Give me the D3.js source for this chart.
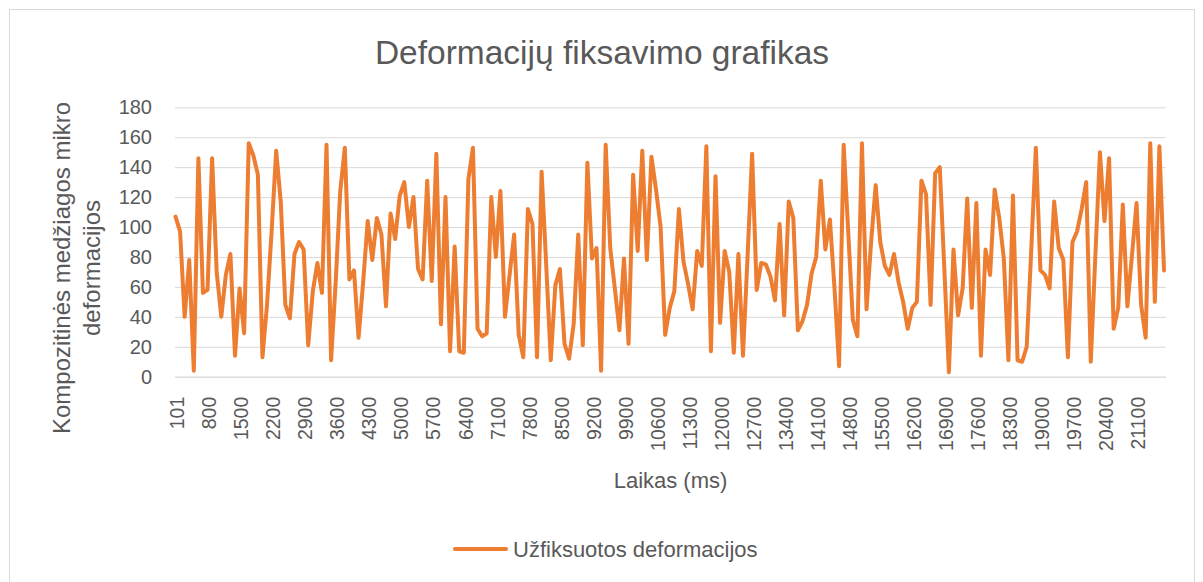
<!DOCTYPE html>
<html>
<head>
<meta charset="utf-8">
<script src="https://cdn.jsdelivr.net/npm/d3@7"></script>
<style>
  html, body { margin: 0; padding: 0; background: #ffffff; }
  svg { display: block; font-family: "Liberation Sans", Arial, sans-serif; }
</style>
</head>
<body>
<svg id="chart" width="1203" height="582"></svg>
<script>
// Sampling times (ms): first sample at 101, then every 100 ms
const times = [101].concat(d3.range(200, 21800, 100));

// Recorded micro-deformation of the composite at each sample
const deformations = [
  107, 97, 40, 78, 4, 146, 56, 58, 146, 70,
  40, 68, 82, 14, 59, 29, 156, 148, 135, 13,
  48, 97, 151, 117, 48, 39, 82, 90, 85, 21,
  57, 76, 56, 155, 11, 63, 124, 153, 65, 71,
  26, 63, 104, 78, 106, 95, 47, 109, 92, 121,
  130, 100, 120, 72, 65, 131, 64, 149, 35, 120,
  17, 87, 17, 16, 132, 153, 32, 27, 29, 120,
  80, 124, 40, 68, 95, 28, 13, 112, 102, 13,
  137, 75, 11, 61, 72, 22, 12, 35, 95, 21,
  143, 79, 86, 4, 155, 86, 59, 31, 79, 22,
  135, 84, 151, 78, 147, 125, 100, 28, 46, 57,
  112, 77, 62, 45, 84, 74, 154, 17, 134, 36,
  84, 70, 16, 82, 14, 80, 149, 58, 76, 75,
  67, 51, 102, 41, 117, 106, 31, 37, 48, 69,
  80, 131, 85, 105, 59, 7, 155, 97, 38, 27,
  156, 45, 90, 128, 90, 74, 68, 82, 63, 50,
  32, 46, 50, 131, 122, 48, 136, 140, 72, 3,
  85, 41, 59, 119, 46, 116, 14, 85, 68, 125,
  106, 79, 11, 121, 11, 10, 20, 85, 153, 71,
  68, 59, 117, 86, 78, 13, 90, 97, 112, 130,
  10, 81, 150, 104, 146, 32, 46, 115, 47, 81,
  116, 48, 26, 156, 50, 154, 71
];

// Category labels printed under the time axis
const xTickLabels = [
  101, 800, 1500, 2200, 2900, 3600, 4300, 5000, 5700, 6400, 7100,
  7800, 8500, 9200, 9900, 10600, 11300, 12000, 12700, 13400, 14100,
  14800, 15500, 16200, 16900, 17600, 18300, 19000, 19700, 20400, 21100
];

// Value axis ticks
const yTicks = [0, 20, 40, 60, 80, 100, 120, 140, 160, 180];

const titleText = "Deformacijų fiksavimo grafikas";
const yTitleLines = ["Kompozitinės medžiagos mikro", "deformacijos"];
const xTitleText = "Laikas (ms)";
const seriesName = "Užfiksuotos deformacijos";

const W = 1203, H = 582;
const plot = { left: 175, right: 1166, top: 107.3, bottom: 376.7 };
const textColor = "#595959";
const gridColor = "#d9d9d9";
const lineColor = "#ED7D31";

const svg = d3.select("#chart");

svg.append("rect")
  .attr("width", W).attr("height", H).attr("fill", "#ffffff");

// Chart frame
svg.append("rect")
  .attr("x", 9.5).attr("y", 9.5)
  .attr("width", 1185).attr("height", 600)
  .attr("fill", "none").attr("stroke", gridColor).attr("stroke-width", 1);

const x = d3.scalePoint()
  .domain(times)
  .range([plot.left + 0.5, plot.right - 2]);

const y = d3.scaleLinear()
  .domain([0, 180])
  .range([plot.bottom, plot.top]);

// Horizontal gridlines and value labels
const yAxis = d3.axisLeft(y)
  .tickValues(yTicks)
  .tickSize(-(plot.right - plot.left))
  .tickPadding(23)
  .tickFormat(d3.format("d"));

const gy = svg.append("g")
  .attr("transform", `translate(${plot.left},0)`)
  .call(yAxis);
gy.select(".domain").remove();
gy.selectAll(".tick line")
  .attr("stroke", gridColor).attr("stroke-width", 1);
gy.selectAll(".tick text")
  .attr("fill", textColor)
  .style("font-size", "20px")
  .style("font-family", "'Liberation Sans', Arial, sans-serif");

// Category axis: baseline plus rotated time labels
const xAxis = d3.axisBottom(x)
  .tickValues(xTickLabels)
  .tickSize(0)
  .tickFormat(d3.format("d"));

const gx = svg.append("g")
  .attr("transform", `translate(0,${plot.bottom})`)
  .call(xAxis);
gx.select(".domain")
  .attr("d", `M${plot.left},0.5H${plot.right}`)
  .attr("stroke", gridColor).attr("stroke-width", 1);
gx.selectAll(".tick text")
  .attr("fill", textColor)
  .style("font-size", "19.5px")
  .style("font-family", "'Liberation Sans', Arial, sans-serif")
  .attr("text-anchor", "end")
  .attr("transform", "rotate(-90)")
  .attr("x", -20)
  .attr("y", 0)
  .attr("dy", "0.42em");

// Deformation series
const line = d3.line()
  .x((d, i) => x(times[i]))
  .y(d => y(d));

svg.append("path")
  .datum(deformations)
  .attr("d", line)
  .attr("fill", "none")
  .attr("stroke", lineColor)
  .attr("stroke-width", 4)
  .attr("stroke-linejoin", "round")
  .attr("stroke-linecap", "round");

// Title
svg.append("text")
  .attr("x", 602).attr("y", 64)
  .attr("text-anchor", "middle")
  .attr("fill", textColor)
  .style("font-size", "33.5px")
  .text(titleText);

// Axis titles
svg.append("text")
  .attr("x", (plot.left + plot.right) / 2).attr("y", 488)
  .attr("text-anchor", "middle")
  .attr("fill", textColor)
  .style("font-size", "22px")
  .text(xTitleText);

const yTitle = svg.append("text")
  .attr("transform", "translate(0,268) rotate(-90)")
  .attr("text-anchor", "middle")
  .attr("fill", textColor)
  .style("font-size", "24px");
yTitle.selectAll("tspan")
  .data(yTitleLines)
  .join("tspan")
  .attr("x", 0)
  .attr("y", (d, i) => 70 + i * 30)
  .text(d => d);

// Legend
const legend = svg.append("g").attr("transform", "translate(0,549)");
legend.append("line")
  .attr("x1", 455).attr("x2", 506)
  .attr("y1", 0).attr("y2", 0)
  .attr("stroke", lineColor).attr("stroke-width", 4)
  .attr("stroke-linecap", "round");
legend.append("text")
  .attr("x", 513).attr("y", 0)
  .attr("dy", "0.35em")
  .attr("fill", textColor)
  .style("font-size", "22px")
  .text(seriesName);
</script>
</body>
</html>
